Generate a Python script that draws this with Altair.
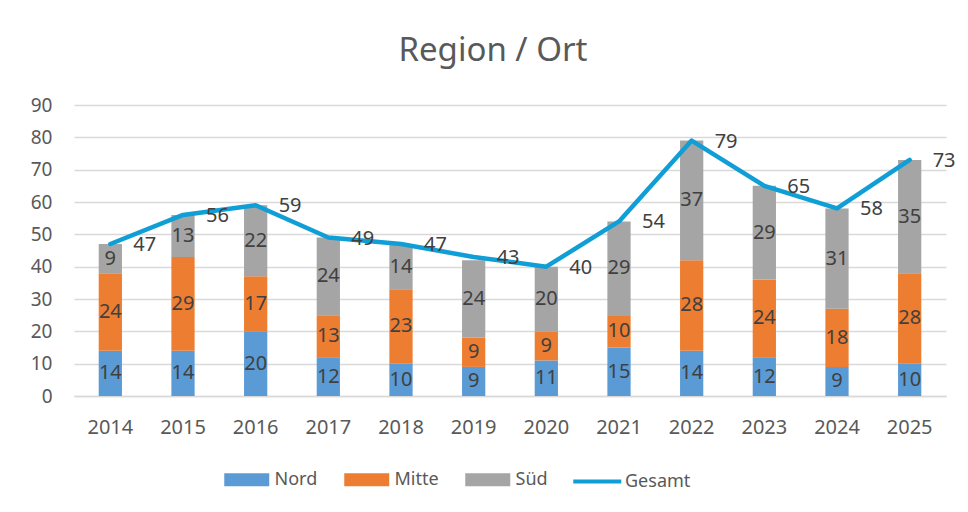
import altair as alt
import pandas as pd

years = ["2014", "2015", "2016", "2017", "2018", "2019", "2020", "2021", "2022", "2023", "2024", "2025"]
nord = [14, 14, 20, 12, 10, 9, 11, 15, 14, 12, 9, 10]
mitte = [24, 29, 17, 13, 23, 9, 9, 10, 28, 24, 18, 28]
sued = [9, 13, 22, 24, 14, 24, 20, 29, 37, 29, 31, 35]
gesamt = [47, 56, 59, 49, 47, 43, 40, 54, 79, 65, 58, 73]
series = ["Nord", "Mitte", "Süd"]
bar_colors = ["#5b9bd5", "#ed7d31", "#a5a5a5"]
line_name = "Gesamt"
line_color = "#0f9ed5"
y_ticks = [0, 10, 20, 30, 40, 50, 60, 70, 80, 90]

rows = []
for i, y in enumerate(years):
    for k, (s, vals) in enumerate(zip(series, [nord, mitte, sued])):
        rows.append({"year": y, "series": s, "ord": k, "value": vals[i]})
bars_df = pd.DataFrame(rows)
tot_df = pd.DataFrame({"year": years, "total": gesamt, "name": [line_name] * len(years)})

W, H = 872, 291
GRAY = "#595959"
LABEL = "#404040"
FONT = "Noto Sans"
NUM = 20

x_enc = alt.X("year:O", title=None,
              scale=alt.Scale(paddingInner=0.68, paddingOuter=0.34),
              axis=alt.Axis(labelAngle=0, labelFontSize=NUM, labelColor=GRAY,
                            ticks=False, labelPadding=21, domainColor="#d9d9d9",
                            domainWidth=1.5, labelFont=FONT))
y_scale = alt.Scale(domain=[0, 90], nice=False)
y_axis = alt.Axis(values=y_ticks, labelFontSize=19, labelColor=GRAY, ticks=False,
                  domain=False, gridColor="#d9d9d9", gridWidth=1.5, labelPadding=22,
                  labelOverlap=False, labelFont=FONT)

bars = alt.Chart(bars_df).mark_bar().encode(
    x=x_enc,
    y=alt.Y("value:Q", stack="zero", title=None, scale=y_scale, axis=y_axis),
    color=alt.Color("series:N", scale=alt.Scale(domain=series, range=bar_colors),
                    legend=alt.Legend(
                        title=None, orient="none", direction="horizontal",
                        legendX=150, legendY=363,
                        labelFontSize=18, labelColor=GRAY, labelFont=FONT,
                        symbolType="M-1,-0.578H3V0.578H-1Z",
                        symbolSize=506.25, labelOffset=27.5, columnPadding=26,
                        symbolStrokeWidth=0)),
    order=alt.Order("ord:Q", sort="ascending"),
)

seg_text = alt.Chart(bars_df).transform_stack(
    stack="value", groupby=["year"], as_=["v0", "v1"],
    sort=[alt.SortField("ord", order="ascending")]
).transform_calculate(mid="(datum.v0 + datum.v1) / 2").mark_text(
    fontSize=NUM, color=LABEL, font=FONT, baseline="middle"
).encode(x=x_enc, y=alt.Y("mid:Q", title=None, scale=y_scale, axis=y_axis), text="value:Q")

line = alt.Chart(tot_df).mark_line(strokeWidth=4.5,
                                  strokeCap="round", strokeJoin="round").encode(
    x=x_enc, y=alt.Y("total:Q", title=None, scale=y_scale, axis=y_axis),
    stroke=alt.Stroke("name:N", scale=alt.Scale(domain=[line_name], range=[line_color]),
                      legend=alt.Legend(
                          title=None, orient="none", direction="horizontal",
                          legendX=497, legendY=363,
                          labelFontSize=18, labelColor=GRAY, labelFont=FONT,
                          symbolType="M-1,0H3.27", symbolSize=506.25,
                          symbolStrokeWidth=4, labelOffset=27)))

line_text = alt.Chart(tot_df).mark_text(
    fontSize=NUM, color=LABEL, font=FONT, align="left", baseline="middle", dx=23, dy=1
).encode(x=x_enc, y=alt.Y("total:Q", title=None, scale=y_scale, axis=y_axis), text="total:Q")

chart = alt.layer(bars, seg_text, line, line_text).properties(
    width=W, height=H,
    title=alt.Title("Region / Ort", fontSize=33, color=GRAY, fontWeight="normal",
                    font=FONT, offset=28, dx=-17, frame="group"),
    autosize=alt.AutoSizeParams(type="none"),
    padding={"left": 66, "top": 97, "right": 14, "bottom": 100},
).configure_view(stroke=None)

chart.save("out.html", embed_options={"renderer": "svg", "actions": False})
